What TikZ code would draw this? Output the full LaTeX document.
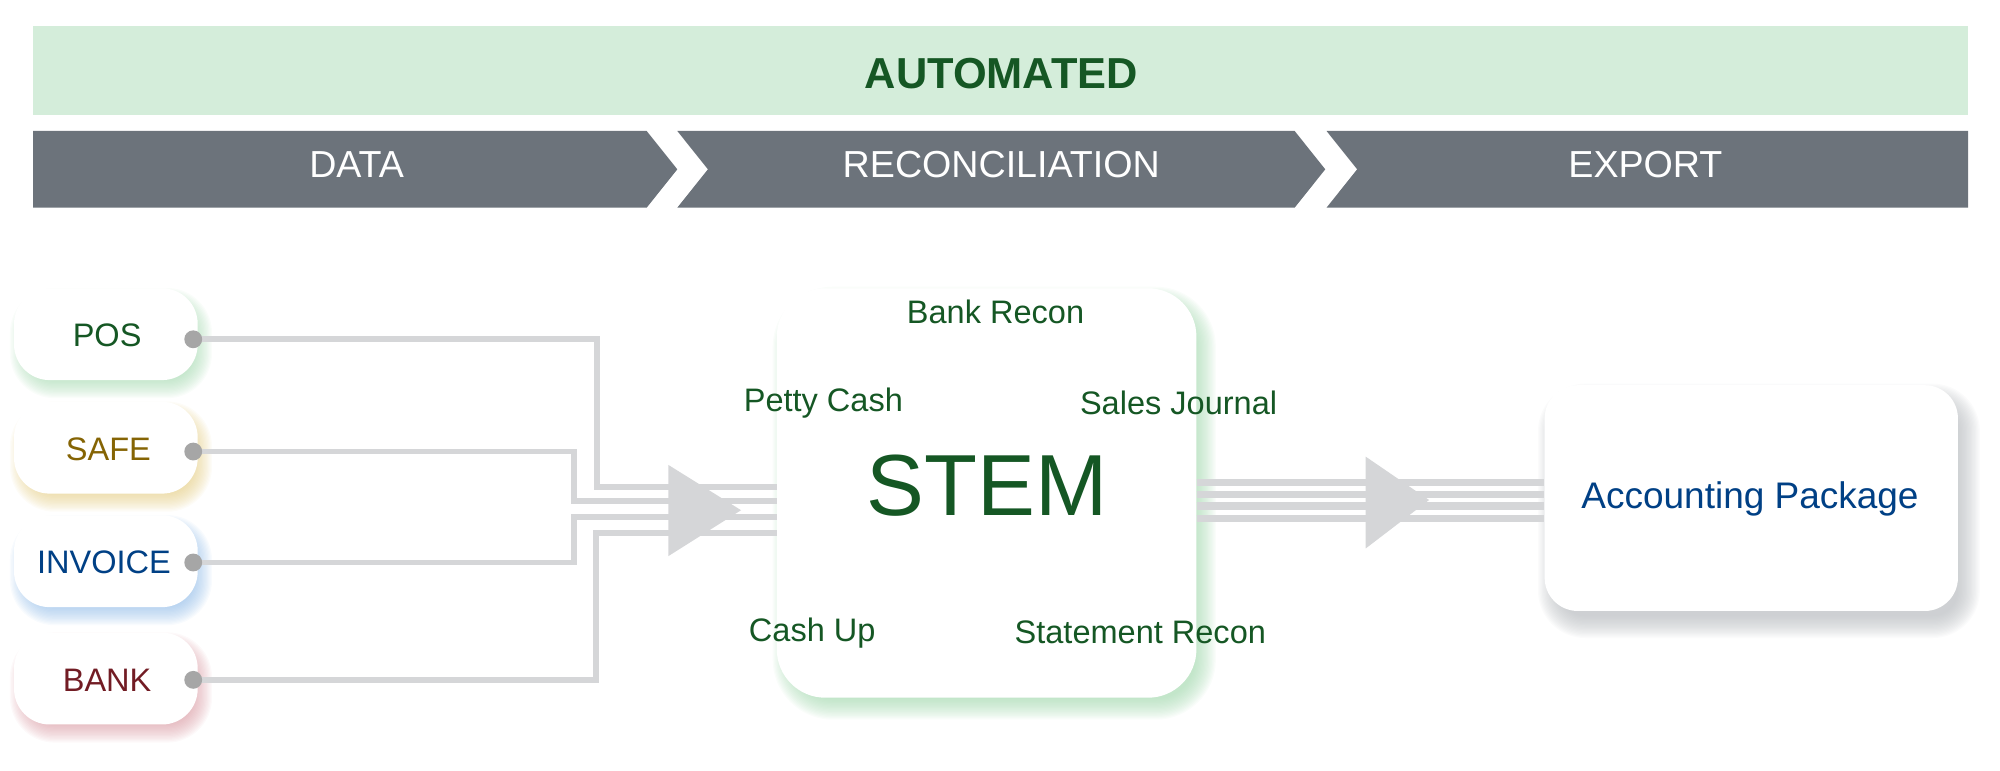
\documentclass[tikz,border=0pt]{standalone}
\usepackage{fontspec}
\setmainfont{Liberation Sans}
\usetikzlibrary{backgrounds,calc}
\definecolor{bandgreen}{HTML}{D4EDDA}
\definecolor{dkgreen}{HTML}{155724}
\definecolor{chev}{HTML}{6C737B}
\definecolor{conncol}{HTML}{D5D6D8}
\definecolor{dotcol}{HTML}{A6A6A6}
\definecolor{safecol}{HTML}{856404}
\definecolor{invcol}{HTML}{004085}
\definecolor{bankcol}{HTML}{721C24}
\definecolor{gshadow}{HTML}{9ED6AA}
\definecolor{yshadow}{HTML}{E2C878}
\definecolor{bshadow}{HTML}{88B6E6}
\definecolor{rshadow}{HTML}{D6929B}
\definecolor{grshadow}{HTML}{B2B6BA}
\newcommand\softglow[7]{% node, color, dx, dy, radius, min k, max k
  \foreach \k in {#6,...,#7}{
    \fill[#2, opacity=0.055, rounded corners={max(#5+\k,2)}]
      ($(#1.south west)+(#3-\k,#4+\k)$) rectangle ($(#1.north east)+(#3+\k,#4-\k)$);
  }
}
\tikzset{
  srcbox/.style={rectangle, rounded corners=28pt, fill=white, minimum width=144pt,
    minimum height=72pt, inner sep=0pt},
  srctext/.style={font=\fontsize{25.5}{28}\selectfont, anchor=base},
  portdot/.style={circle, fill=dotcol, minimum size=14pt, inner sep=0pt},
  conn/.style={draw=conncol, line width=4.5pt},
  connr/.style={draw=conncol, line width=5.5pt},
  chevtext/.style={text=white, font=\fontsize{29.5}{32}\selectfont, anchor=base},
  steplbl/.style={text=dkgreen, font=\fontsize{25.5}{28}\selectfont, anchor=base},
  bigbox/.style={rectangle, fill=white, inner sep=0pt}
}
\begin{document}
\begin{tikzpicture}[x=1pt,y=-1pt]
\useasboundingbox (0,0) rectangle (1568,604);
% top band
\fill[bandgreen] (26,20.4) rectangle (1543,90.2);
\node[text=dkgreen, font=\bfseries\fontsize{34}{36}\selectfont, anchor=base] (auto) at (785,69.3) {AUTOMATED};
% chevrons
\fill[chev] (26,102.7) -- (507,102.7) -- (531,132.75) -- (507,162.8) -- (26,162.8) -- cycle;
\fill[chev] (531,102.7) -- (1015,102.7) -- (1039,132.75) -- (1015,162.8) -- (531,162.8) -- (555,132.75) -- cycle;
\fill[chev] (1040,102.7) -- (1543,102.7) -- (1543,162.8) -- (1040,162.8) -- (1064,132.75) -- cycle;
\node[chevtext] (data) at (279.6,139) {DATA};
\node[chevtext] (recon) at (785,139) {RECONCILIATION};
\node[chevtext] (export) at (1290,139) {EXPORT};
% source boxes
\node[srcbox] (pos) at (83,262) {};
\node[srcbox] (safe) at (83,351) {};
\node[srcbox] (inv) at (83,440) {};
\node[srcbox] (bank) at (83,532) {};
\node[srctext, text=dkgreen] (postxt) at (84,271.8) {POS};
\node[srctext, text=safecol] (safetxt) at (85,360.8) {SAFE};
\node[srctext, text=invcol] (invtxt) at (81.5,449.8) {INVOICE};
\node[srctext, text=bankcol] (banktxt) at (84,541.8) {BANK};
% STEM box
\node[bigbox, rounded corners=38pt, minimum width=329pt, minimum height=321pt] (stem) at (773.5,386.5) {};
\node[text=dkgreen, font=\fontsize{68}{70}\selectfont, anchor=base] (stemtxt) at (774,404) {STEM};
\node[steplbl] (bankrecon) at (780.5,253.5) {Bank Recon};
\node[steplbl] (petty) at (645.5,322.7) {Petty Cash};
\node[steplbl] (sales) at (924,324.6) {Sales Journal};
\node[steplbl] (cashup) at (636.8,503) {Cash Up};
\node[steplbl] (stmt) at (894,504.4) {Statement Recon};
% accounting package
\node[bigbox, rounded corners=26pt, minimum width=324pt, minimum height=177pt] (acc) at (1373,390.5) {};
\node[text=invcol, font=\fontsize{29}{31}\selectfont, anchor=base] (acctxt) at (1372,398.5) {Accounting Package};
% shadows
\begin{scope}[on background layer]
\softglow{pos}{gshadow}{4}{7}{28}{-7}{7}
\softglow{safe}{yshadow}{4}{7}{28}{-7}{7}
\softglow{inv}{bshadow}{4}{7}{28}{-7}{7}
\softglow{bank}{rshadow}{4}{7}{28}{-7}{7}
\softglow{stem}{gshadow}{6}{8}{38}{-7}{9}
\softglow{acc}{grshadow}{6}{10}{26}{-6}{11}
\end{scope}
% connectors left
\coordinate (posp) at (151.5,266);
\coordinate (safep) at (151.5,354);
\coordinate (invp) at (151.5,441);
\coordinate (bankp) at (151.5,533);
\draw[conn] (posp) -| (468,381.6) -- (stem.west |- 0,381.6);
\draw[conn] (safep) -| (450,393) -- (stem.west |- 0,393);
\draw[conn] (invp) -| (450,405.5) -- (stem.west |- 0,405.5);
\draw[conn] (bankp) -| (467,418) -- (stem.west |- 0,418);
\fill[conncol] (524,364.5) -- (581,400) -- (524,436) -- cycle;
\node[portdot] (posdot) at (posp) {};
\node[portdot] (safedot) at (safep) {};
\node[portdot] (invdot) at (invp) {};
\node[portdot] (bankdot) at (bankp) {};
% connectors right
\foreach \yy in {377.9,387.3,396.7,406.3}{
  \draw[connr] (stem.east |- 0,\yy) -- (acc.west |- 0,\yy);
}
\fill[conncol] (1070.7,358) -- (1120.4,392) -- (1070.7,430) -- cycle;
\end{tikzpicture}
\end{document}
